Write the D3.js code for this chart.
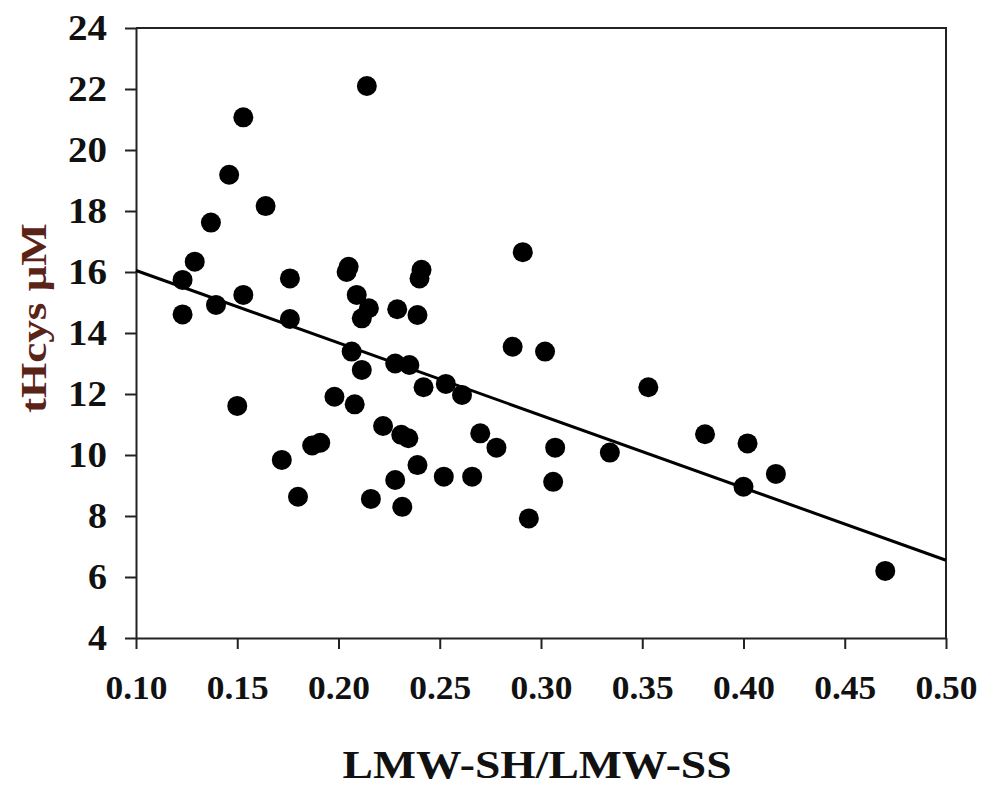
<!DOCTYPE html>
<html>
<head>
<meta charset="utf-8">
<script src="https://cdn.jsdelivr.net/npm/d3@7"></script>
<style>
  body { margin: 0; background: #fff; }
  svg { display: block; }
</style>
</head>
<body>
<script>
// values
const xVals = [0.214, 0.153, 0.146, 0.164, 0.137, 0.291, 0.129, 0.205, 0.204, 0.241,
               0.240, 0.123, 0.176, 0.153, 0.209, 0.215, 0.2115, 0.229, 0.239, 0.123,
               0.1395, 0.176, 0.2065, 0.2115, 0.228, 0.235, 0.242, 0.253, 0.261, 0.150,
               0.198, 0.208, 0.222, 0.231, 0.2345, 0.270, 0.278, 0.187, 0.191, 0.172,
               0.239, 0.228, 0.252, 0.266, 0.180, 0.216, 0.2315, 0.294, 0.286, 0.302,
               0.353, 0.307, 0.334, 0.306, 0.381, 0.402, 0.416, 0.400, 0.470];
const yVals = [22.1, 21.07, 19.19, 18.16, 17.62, 16.65, 16.34, 16.17, 16.0, 16.07,
               15.79, 15.74, 15.79, 15.25, 15.25, 14.81, 14.48, 14.78, 14.59, 14.61,
               14.92, 14.46, 13.39, 12.79, 13.0, 12.95, 12.22, 12.33, 11.97, 11.61,
               11.91, 11.66, 10.95, 10.66, 10.55, 10.71, 10.24, 10.31, 10.40, 9.84,
               9.67, 9.18, 9.29, 9.29, 8.63, 8.56, 8.30, 7.92, 13.55, 13.39,
               12.22, 10.24, 10.08, 9.12, 10.68, 10.38, 9.38, 8.96, 6.20];
const xTicks = [0.10, 0.15, 0.20, 0.25, 0.30, 0.35, 0.40, 0.45, 0.50];
const yTicks = [4, 6, 8, 10, 12, 14, 16, 18, 20, 22, 24];
const fitLine = [[0.10, 16.05], [0.50, 6.55]];

const WIDTH = 984, HEIGHT = 785;
const LEFT = 136, RIGHT = 946, TOP = 28, BOTTOM = 638;
const FONT = "'Times New Roman', Times, 'Liberation Serif', serif";

const svg = d3.select("body").append("svg")
    .attr("width", WIDTH)
    .attr("height", HEIGHT);

const xScale = d3.scaleLinear().domain([0.10, 0.50]).range([LEFT, RIGHT]);
const yScale = d3.scaleLinear().domain([4, 24]).range([BOTTOM, TOP]);

// frame top + right
svg.append("path")
    .attr("d", `M${LEFT},${TOP}H${RIGHT}V${BOTTOM}`)
    .attr("fill", "none")
    .attr("stroke", "#222")
    .attr("stroke-width", 2);

const xAxis = d3.axisBottom(xScale)
    .tickValues(xTicks)
    .tickFormat(d3.format(".2f"))
    .tickSize(11)
    .tickSizeOuter(0)
    .tickPadding(26);

const yAxis = d3.axisLeft(yScale)
    .tickValues(yTicks)
    .tickSize(11)
    .tickSizeOuter(0)
    .tickPadding(18);

const xg = svg.append("g")
    .attr("transform", `translate(0,${BOTTOM})`)
    .call(xAxis);
const yg = svg.append("g")
    .attr("transform", `translate(${LEFT},0)`)
    .call(yAxis);

[xg, yg].forEach(g => {
    g.selectAll(".domain, line").attr("stroke", "#222").attr("stroke-width", 2);
    g.selectAll("text")
        .attr("fill", "#111")
        .style("font-family", FONT)
        .style("font-weight", "bold");
});
xg.selectAll("text").style("font-size", "34px")
    .attr("textLength", 62).attr("lengthAdjust", "spacingAndGlyphs");
yg.selectAll("text").style("font-size", "35px")
    .attr("dy", "0.34em")
    .attr("textLength", d => d < 10 ? 19 : 39)
    .attr("lengthAdjust", "spacingAndGlyphs");

// regression line
svg.append("line")
    .attr("x1", xScale(fitLine[0][0]))
    .attr("y1", yScale(fitLine[0][1]))
    .attr("x2", xScale(fitLine[1][0]))
    .attr("y2", yScale(fitLine[1][1]))
    .attr("stroke", "#000")
    .attr("stroke-width", 3);

// points
svg.selectAll(".dot")
    .data(xVals.map((x, i) => ({x: x, y: yVals[i]})))
    .join("circle")
    .attr("class", "dot")
    .attr("cx", d => xScale(d.x))
    .attr("cy", d => yScale(d.y))
    .attr("r", 10)
    .attr("fill", "#000");

// axis titles
svg.append("text")
    .attr("x", 537)
    .attr("y", 778)
    .attr("text-anchor", "middle")
    .attr("textLength", 389)
    .attr("lengthAdjust", "spacingAndGlyphs")
    .style("font-family", FONT)
    .style("font-weight", "bold")
    .style("font-size", "39px")
    .attr("fill", "#111")
    .text("LMW-SH/LMW-SS");

svg.append("text")
    .attr("transform", "translate(46,318) rotate(-90)")
    .attr("text-anchor", "middle")
    .attr("textLength", 190)
    .attr("lengthAdjust", "spacingAndGlyphs")
    .style("font-family", FONT)
    .style("font-weight", "bold")
    .style("font-size", "35px")
    .attr("fill", "#5a2318")
    .text("tHcys μM");
</script>
</body>
</html>
